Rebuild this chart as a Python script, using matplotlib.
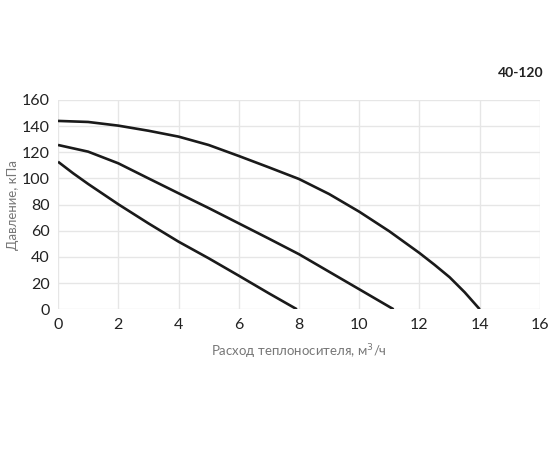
import numpy as np
import matplotlib
matplotlib.use("Agg")
import matplotlib.pyplot as plt

# curves (flow m3/h, pressure kPa)
x_top = [0, 1, 2, 3, 4, 5, 6, 7, 8, 9, 10, 11, 12, 12.5, 13, 13.5, 14]
y_top = [144, 143.2, 140.4, 136.5, 132, 125.6, 117.2, 108.5, 99.6, 88.1, 74.6, 59.6, 43, 34, 24.5, 13, 0]

x_mid = [0, 1, 2, 3, 4, 5, 6, 7, 8, 9, 10, 11.14]
y_mid = [125.6, 120.5, 111.6, 100.1, 88.7, 77.4, 65.7, 54, 42.1, 28.7, 15.3, 0]

x_low = [0, 0.5, 1, 2, 3, 4, 5, 6, 7, 7.93]
y_low = [112.8, 104, 95.8, 80.3, 65.7, 51.7, 39, 25.7, 12.2, 0]

xticks = [0, 2, 4, 6, 8, 10, 12, 14, 16]
yticks = [0, 20, 40, 60, 80, 100, 120, 140, 160]

plt.rcParams['font.family'] = ['Lato', 'DejaVu Sans']


def main():
    fig = plt.figure(figsize=(5.5, 4.5), dpi=100)
    ax = fig.add_axes([0.1055, 0.3127, 0.8763, 0.4651])

    for xs, ys in [(x_top, y_top), (x_mid, y_mid), (x_low, y_low)]:
        ax.plot(xs, ys, color="#1a1a1a", lw=1.9, solid_capstyle="butt",
                solid_joinstyle="round")

    ax.set_xlim(0, 16)
    ax.set_ylim(0, 160)
    ax.set_xticks(xticks)
    ax.set_yticks(yticks)
    ax.grid(color="#e6e6e6", lw=1)
    ax.set_axisbelow(True)
    for s in ax.spines.values():
        s.set_visible(False)
    ax.tick_params(length=0, labelsize=11.5, colors="#222222", pad=6)

    ax.set_xlabel("Расход теплоносителя, м$^3$/ч", color="#777777", fontsize=9.5, labelpad=8)
    ax.set_ylabel("Давление, кПа", color="#777777", fontsize=9.5, labelpad=2)
    fig.text(0.947, 0.838, "40-120", ha="center", va="center", fontsize=10,
             fontweight="bold", color="#222222")

    fig.savefig("out.png", dpi=100)


if __name__ == "__main__":
    main()
